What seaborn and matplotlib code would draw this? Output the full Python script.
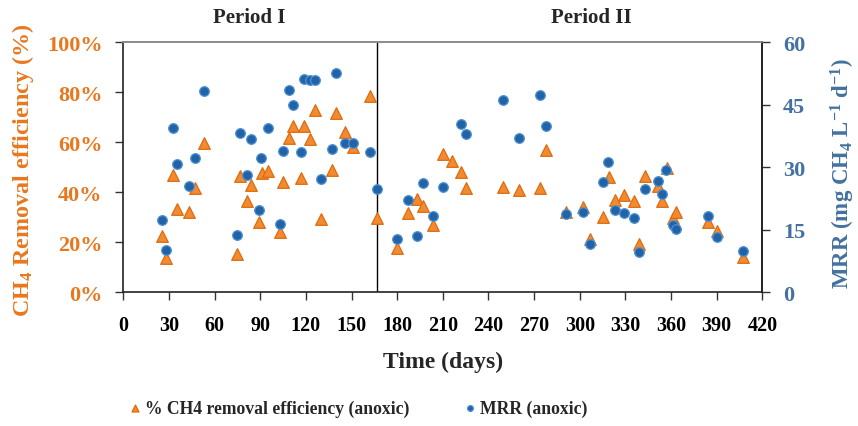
import matplotlib
matplotlib.use("Agg")
import matplotlib.pyplot as plt
import seaborn as sns
import pandas as pd

# ---------------- data ----------------
eff_days = [25.6, 28.1, 32.9, 35.1, 43, 47.1, 53, 74.7, 76.9, 81.5, 83.9, 89, 91, 95.1,
            103, 104.8, 108.9, 111.7, 116.8, 119, 122.7, 126, 129.9, 137, 140, 145.9,
            151.2, 162, 166.5, 180.1, 186.9, 192.8, 197.2, 203.8, 209.9, 215.8, 221.8,
            225.2, 249.8, 260.1, 273.9, 278, 291, 302.2, 307, 315.1, 319, 323.2, 329.1,
            335.9, 339.2, 343.1, 351.2, 354.1, 357.2, 361.5, 363.1, 384.1, 390, 407.3]
eff_pct = [22.4, 13.6, 46.9, 33.2, 32.1, 41.7, 59.6, 15.3, 46.4, 36.4, 42.9, 28.3, 47.6, 48.4,
           24.0, 44.2, 61.7, 66.5, 45.7, 66.5, 61.2, 72.8, 29.3, 48.9, 71.7, 64.2,
           58.1, 78.4, 29.7, 17.7, 31.7, 37.3, 34.6, 27.0, 55.2, 52.4, 48.1,
           41.6, 42.1, 40.9, 41.7, 57.0, 32.2, 34.0, 21.3, 30.2, 46.2, 36.8, 38.9,
           36.5, 19.3, 46.4, 42.6, 36.4, 49.7, 29.6, 32.1, 28.0, 24.6, 14.2]

mrr_days = [25.6, 28.1, 32.9, 35.1, 43, 46.9, 53, 74.5, 76.9, 81.5, 83.9, 89, 90.7, 94.9,
            103, 104.8, 108.9, 111.7, 116.8, 119, 122.7, 125.9, 129.7, 137, 139.8, 145.9,
            151.2, 162, 166.5, 180.1, 186.9, 192.8, 196.8, 203.8, 209.9, 221.8, 225,
            249.8, 260.1, 273.9, 278, 291, 302.2, 307, 315.1, 318.8, 323.2, 329.1, 335.9,
            339.2, 342.9, 351.2, 353.9, 356.7, 361.5, 363.1, 384.1, 390, 407.3]
mrr_vals = [17.4, 10.2, 39.4, 30.9, 25.4, 32.2, 48.2, 13.75, 38.2, 28.1, 36.7, 19.7, 32.2, 39.4,
            16.4, 33.9, 48.6, 44.9, 33.7, 51.2, 50.9, 50.9, 27.3, 34.5, 52.7, 35.8,
            35.8, 33.7, 24.7, 12.8, 22.2, 13.4, 26.2, 18.3, 25.3, 40.3, 38.0,
            46.1, 37.1, 47.3, 39.8, 18.9, 19.3, 11.6, 26.5, 31.2, 19.8, 19.0, 17.8,
            9.6, 24.9, 26.8, 23.6, 29.4, 16.2, 15.2, 18.4, 13.2, 9.8]

x_ticks = list(range(0, 421, 30))
left_ticks = [0, 20, 40, 60, 80, 100]
right_ticks = [0, 15, 30, 45, 60]
period_split = 167
period_labels = ["Period I", "Period II"]

# ---------------- style ----------------
sns.set_theme(style="ticks")
plt.rcParams["font.family"] = ["Liberation Serif", "DejaVu Serif"]
plt.rcParams["font.weight"] = "bold"
plt.rcParams["mathtext.fontset"] = "custom"
plt.rcParams["mathtext.rm"] = "Liberation Serif:bold"
plt.rcParams["mathtext.it"] = "Liberation Serif:bold"
plt.rcParams["mathtext.bf"] = "Liberation Serif:bold"
plt.rcParams["mathtext.default"] = "rm"

ORANGE = "#E8781F"
BLUE_TXT = "#44719F"
TRI_FACE = "#F28B30"
TRI_EDGE = "#E06A0E"
DOT_FACE = "#2262A6"
DOT_EDGE = "#4C92D6"

df_eff = pd.DataFrame({"day": eff_days, "pct": eff_pct})
df_mrr = pd.DataFrame({"day": mrr_days, "mrr": mrr_vals})

fig = plt.figure(figsize=(8.58, 4.27), dpi=100)
ax = fig.add_axes([0.1437, 0.3131, 0.7448, 0.5855])
ax2 = ax.twinx()

sns.scatterplot(data=df_eff, x="day", y="pct", ax=ax, marker="^", s=70,
                color=TRI_FACE, edgecolor=TRI_EDGE, linewidth=0.9,
                label="% CH4 removal efficiency (anoxic)", legend=False, zorder=3)
sns.scatterplot(data=df_mrr, x="day", y="mrr", ax=ax2, marker="o", s=48,
                color=DOT_FACE, edgecolor=DOT_EDGE, linewidth=0.9,
                label="MRR (anoxic)", legend=False, zorder=3)

ax.axvline(period_split, color="black", lw=1.0, zorder=2)

ax.set_xlim(0, 420)
ax.set_ylim(0, 100)
ax2.set_ylim(0, 60)
ax.set_xticks(x_ticks)
ax.set_xticklabels([str(t) for t in x_ticks], fontsize=14.5, fontweight="bold", color="black")
ax.set_yticks(left_ticks)
ax.set_yticklabels([f"{t}%" for t in left_ticks], fontsize=16, fontweight="bold", color=ORANGE)
ax2.set_yticks(right_ticks)
ax2.set_yticklabels([str(t) for t in right_ticks], fontsize=16, fontweight="bold", color=BLUE_TXT)

for a in (ax, ax2):
    a.tick_params(direction="out", length=6, width=1.0, color="#333333")
ax.tick_params(axis="x", pad=10)
ax.tick_params(axis="y", pad=9)
ax2.tick_params(axis="y", pad=9)

for side in ("left", "bottom"):
    ax.spines[side].set_color("#222222")
    ax.spines[side].set_linewidth(1.2)
ax2.spines["right"].set_color("#222222")
ax2.spines["right"].set_linewidth(1.2)
ax.spines["top"].set_color("#8a8a8a")
ax.spines["top"].set_linewidth(1.2)
ax2.spines["top"].set_color("#8a8a8a")
ax2.spines["top"].set_linewidth(1.2)
ax2.spines["left"].set_visible(False)
ax2.spines["bottom"].set_visible(False)

ax.set_xlabel("Time (days)", fontsize=17, fontweight="bold")
ax.xaxis.set_label_coords(0.5, -0.235)
ax.set_ylabel("CH$_4$ Removal efficiency (%)", fontsize=17.4, fontweight="bold",
              color=ORANGE)
ax.yaxis.set_label_coords(-0.1366, 0.493)
ax2.set_ylabel("MRR (mg CH$_4$ L$^{-1}$ d$^{-1}$)", fontsize=16.5, fontweight="bold",
               color=BLUE_TXT)
ax2.yaxis.set_label_coords(1.1035, 0.479)

fig.text(249.5 / 858, 1 - 18 / 427, period_labels[0], ha="center", va="center",
         fontsize=15, fontweight="bold")
fig.text(591.7 / 858, 1 - 18 / 427, period_labels[1], ha="center", va="center",
         fontsize=15, fontweight="bold")

h1, l1 = ax.get_legend_handles_labels()
h2, l2 = ax2.get_legend_handles_labels()
fig.legend(h1 + h2, l1 + l2, loc="center", bbox_to_anchor=(0.416, 0.042), ncol=2,
           frameon=False, fontsize=12.7, markerscale=0.6, handletextpad=0.1,
           columnspacing=2.9, handlelength=1.0)

fig.savefig("out.png", dpi=100)
